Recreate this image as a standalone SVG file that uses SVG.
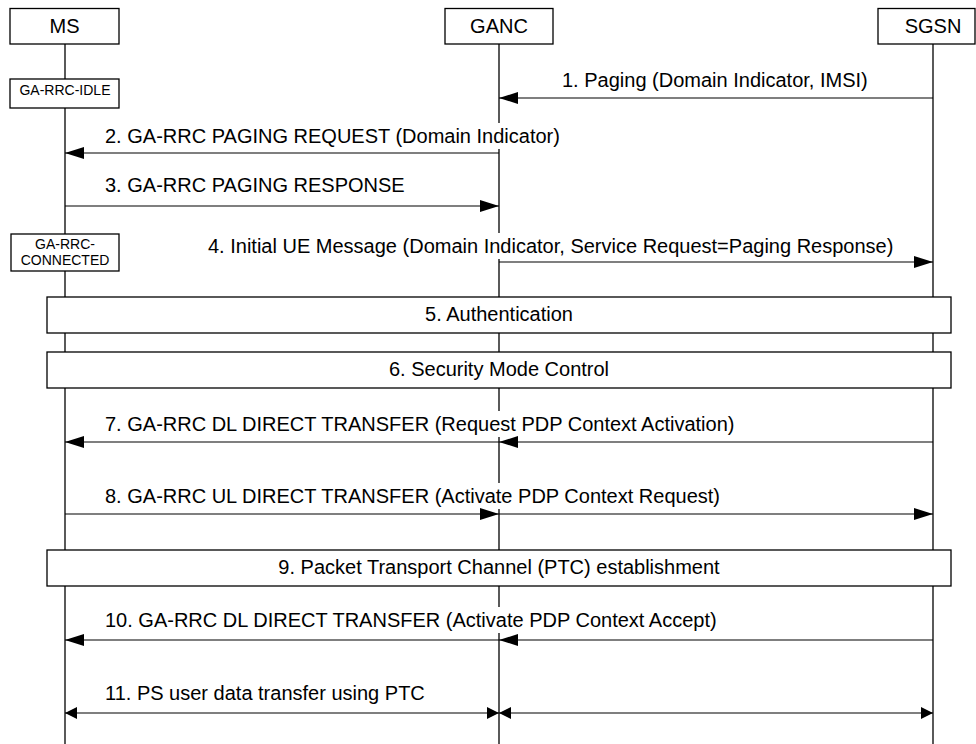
<svg xmlns="http://www.w3.org/2000/svg" width="976" height="744" viewBox="0 0 976 744">
<style>
.box{fill:#fff;stroke:#000;stroke-width:1.3}
.life{stroke:#000;stroke-width:1.3;fill:none}
.msg{stroke:#000;stroke-width:1.2;fill:none}
.t{font-family:"Liberation Sans",Arial,sans-serif;font-size:20px;fill:#000}
.s{font-family:"Liberation Sans",Arial,sans-serif;font-size:14px;fill:#000}
.bg{fill:#fff;stroke:none}
</style>
<defs>
<marker id="ah" markerUnits="userSpaceOnUse" markerWidth="19" markerHeight="12" refX="19" refY="6" orient="auto-start-reverse"><path d="M0,0 L19,6 L0,12 z" fill="#000"/></marker>
<marker id="sh" markerUnits="userSpaceOnUse" markerWidth="12" markerHeight="12" refX="12" refY="6" orient="auto-start-reverse"><path d="M0,0 L12,6 L0,12 z" fill="#000"/></marker>
</defs>
<rect width="976" height="744" fill="#fff"/>
<g id="MS">
<line class="life" x1="65" y1="44" x2="65" y2="744"/>
<rect class="box" x="10" y="8.5" width="109" height="35.5"/>
<text class="t" x="64.5" y="33" text-anchor="middle">MS</text>
</g>
<g id="GANC">
<line class="life" x1="499" y1="44" x2="499" y2="744"/>
<rect class="box" x="445" y="8.5" width="108" height="35.5"/>
<text class="t" x="499" y="33" text-anchor="middle">GANC</text>
</g>
<g id="SGSN">
<line class="life" x1="933" y1="44" x2="933" y2="744"/>
<rect class="box" x="878" y="8.5" width="97" height="35.5"/>
<text class="t" x="933" y="33" text-anchor="middle">SGSN</text>
</g>
<g id="connectors">
<rect class="bg" x="103" y="123" width="462" height="26"/>
<rect class="bg" x="206" y="233" width="690" height="26"/>
<rect class="bg" x="103" y="411" width="637" height="26"/>
<rect class="bg" x="103" y="483" width="622" height="26"/>
<rect class="bg" x="103" y="607" width="620" height="26"/>
<line class="msg" x1="933" y1="98" x2="499" y2="98" marker-end="url(#ah)"/>
<text class="t" x="562" y="87">1. Paging (Domain Indicator, IMSI)</text>
<line class="msg" x1="499" y1="153" x2="65" y2="153" marker-end="url(#ah)"/>
<text class="t" x="105" y="143">2. GA-RRC PAGING REQUEST (Domain Indicator)</text>
<line class="msg" x1="65" y1="206" x2="499" y2="206" marker-end="url(#ah)"/>
<text class="t" x="105" y="192">3. GA-RRC PAGING RESPONSE</text>
<line class="msg" x1="499" y1="262" x2="933" y2="262" marker-end="url(#ah)"/>
<text class="t" x="208" y="253">4. Initial UE Message (Domain Indicator, Service Request=Paging Response)</text>
<line class="msg" x1="933" y1="442" x2="499" y2="442" marker-end="url(#ah)"/>
<line class="msg" x1="499" y1="442" x2="65" y2="442" marker-end="url(#ah)"/>
<text class="t" x="105" y="431">7. GA-RRC DL DIRECT TRANSFER (Request PDP Context Activation)</text>
<line class="msg" x1="65" y1="514" x2="499" y2="514" marker-end="url(#ah)"/>
<line class="msg" x1="499" y1="514" x2="933" y2="514" marker-end="url(#ah)"/>
<text class="t" x="105" y="503">8. GA-RRC UL DIRECT TRANSFER (Activate PDP Context Request)</text>
<line class="msg" x1="933" y1="640" x2="499" y2="640" marker-end="url(#ah)"/>
<line class="msg" x1="499" y1="640" x2="65" y2="640" marker-end="url(#ah)"/>
<text class="t" x="105" y="627">10. GA-RRC DL DIRECT TRANSFER (Activate PDP Context Accept)</text>
<line class="msg" x1="65" y1="713" x2="499" y2="713" marker-start="url(#sh)" marker-end="url(#sh)"/>
<line class="msg" x1="499" y1="713" x2="933" y2="713" marker-start="url(#sh)" marker-end="url(#sh)"/>
<text class="t" x="105" y="700">11. PS user data transfer using PTC</text>
</g>
<g id="GA-RRC-IDLE">
<rect class="box" x="10" y="79" width="109" height="29"/>
<text class="s" x="65" y="95" text-anchor="middle">GA-RRC-IDLE</text>
</g>
<g id="GA-RRC-CONNECTED">
<rect class="box" x="11" y="234" width="108" height="37"/>
<text class="s" x="65" y="249" text-anchor="middle">GA-RRC-</text>
<text class="s" x="65" y="265" text-anchor="middle">CONNECTED</text>
</g>
<g id="Authentication">
<rect class="box" x="47" y="297" width="904" height="36"/>
<text class="t" x="499" y="321" text-anchor="middle">5. Authentication</text>
</g>
<g id="SecurityModeControl">
<rect class="box" x="47" y="352" width="904" height="36"/>
<text class="t" x="499" y="376" text-anchor="middle">6. Security Mode Control</text>
</g>
<g id="PTCEstablishment">
<rect class="box" x="47" y="550" width="904" height="36"/>
<text class="t" x="499" y="574" text-anchor="middle">9. Packet Transport Channel (PTC) establishment</text>
</g>
</svg>
